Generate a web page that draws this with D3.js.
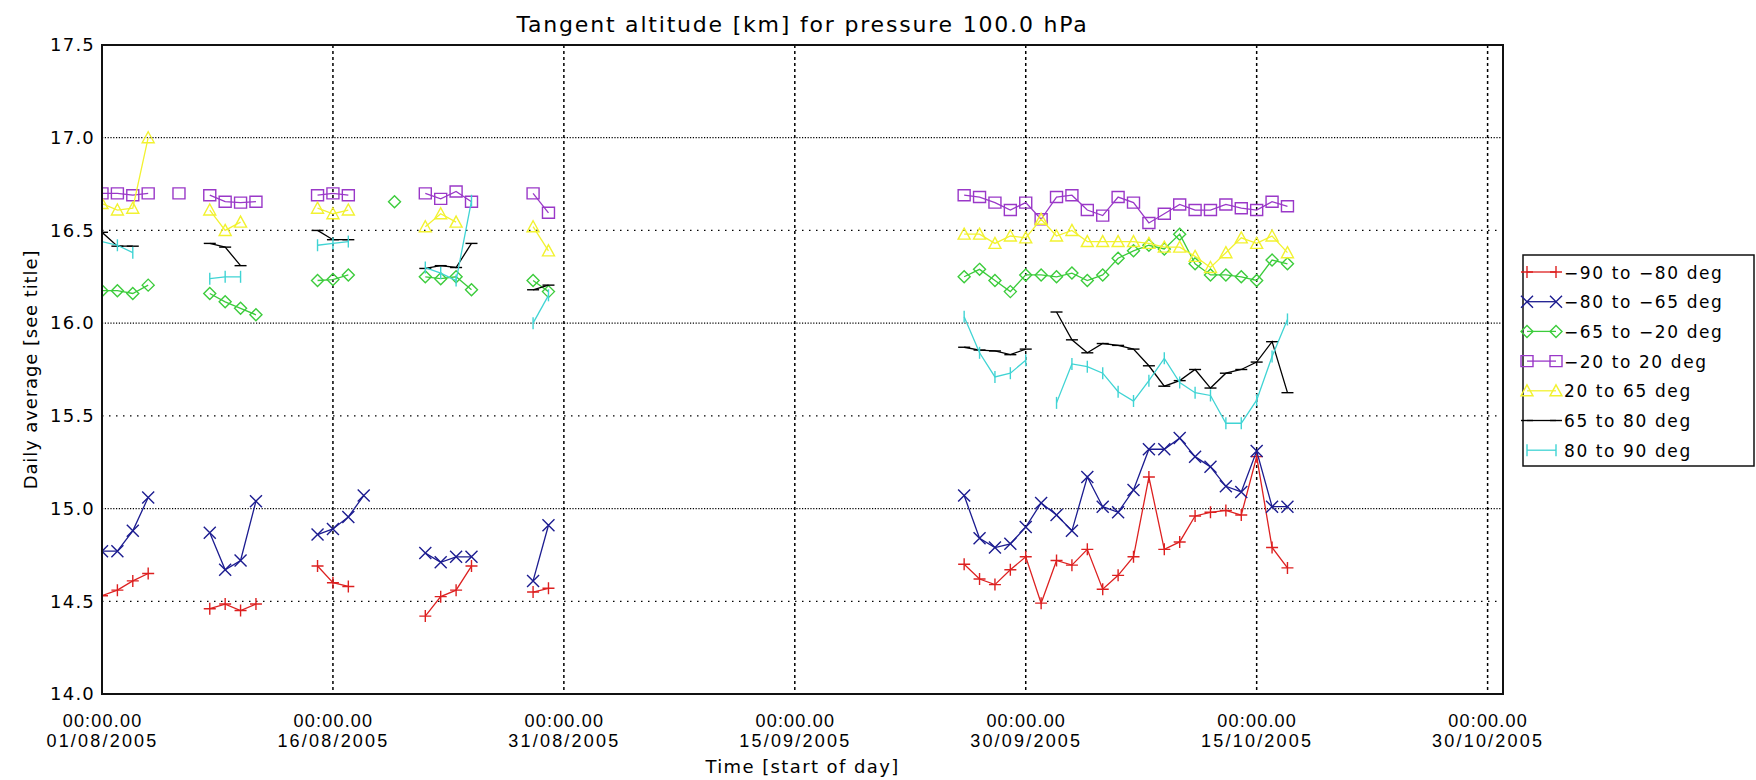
<!DOCTYPE html>
<html><head><meta charset="utf-8">
<script src="https://cdn.jsdelivr.net/npm/d3@7"></script>
<style>body{margin:0;background:#fff;} svg{display:block;font-family:"DejaVu Sans",sans-serif;}</style>
</head><body><svg id="c" width="1756" height="780"></svg>
<script>
// ---------- data ----------
const chartTitle = "Tangent altitude [km] for pressure 100.0 hPa";
const yTitle = "Daily average [see title]";
const xTitle = "Time [start of day]";
const startDate = "2005-08-01";          // day index 0
const xTickDays = [0, 15, 30, 45, 60, 75, 90];
const xTickLine1 = ["00:00.00","00:00.00","00:00.00","00:00.00","00:00.00","00:00.00","00:00.00"];
const xTickLine2 = ["01/08/2005","16/08/2005","31/08/2005","15/09/2005","30/09/2005","15/10/2005","30/10/2005"];
const yTicks = [14.0, 14.5, 15.0, 15.5, 16.0, 16.5, 17.0, 17.5];
const seriesNames = ["−90 to −80 deg","−80 to −65 deg","−65 to −20 deg","−20 to 20 deg","20 to 65 deg","65 to 80 deg","80 to 90 deg"];

const lateDays = [56,57,58,59,60,61,62,63,64,65,66,67,68,69,70,71,72,73,74,75,76,77];

const redDays = [0,1,2,3,7,8,9,10,14,15,16,21,22,23,24,28,29].concat(lateDays);
const redVals = [14.53,14.56,14.61,14.65, 14.46,14.485,14.45,14.485, 14.69,14.60,14.58, 14.42,14.525,14.56,14.69, 14.55,14.57,
  14.70,14.62,14.59,14.67,14.74,14.49,14.72,14.695,14.78,14.565,14.64,14.74,15.17,14.78,14.82,14.96,14.98,14.99,14.965,15.28,14.79,14.68];

const blueDays = [0,1,2,3,7,8,9,10,14,15,16,17,21,22,23,24,28,29].concat(lateDays);
const blueVals = [14.77,14.77,14.88,15.06, 14.87,14.67,14.72,15.04, 14.86,14.89,14.955,15.07, 14.76,14.71,14.74,14.74, 14.61,14.91,
  15.07,14.84,14.79,14.81,14.90,15.03,14.965,14.88,15.17,15.01,14.98,15.10,15.32,15.32,15.38,15.28,15.225,15.12,15.09,15.31,15.01,15.01];

const greenDays = [0,1,2,3,7,8,9,10,14,15,16,19,21,22,23,24,28,29].concat(lateDays);
const greenVals = [16.175,16.175,16.16,16.205, 16.16,16.115,16.08,16.045, 16.23,16.235,16.26, 16.655, 16.25,16.24,16.25,16.18, 16.23,16.17,
  16.25,16.29,16.23,16.17,16.26,16.26,16.25,16.27,16.23,16.26,16.35,16.39,16.42,16.40,16.48,16.32,16.26,16.26,16.25,16.23,16.34,16.32];

const purpleDays = [0,1,2,3,5,7,8,9,10,14,15,16,21,22,23,24,28,29].concat(lateDays);
const purpleVals = [16.70,16.70,16.69,16.70, 16.70, 16.69,16.655,16.65,16.655, 16.69,16.70,16.69, 16.70,16.67,16.71,16.655, 16.70,16.595,
  16.69,16.68,16.65,16.61,16.65,16.56,16.68,16.69,16.61,16.58,16.68,16.65,16.54,16.59,16.64,16.61,16.61,16.64,16.62,16.61,16.655,16.63];

const yellowDays = [0,1,2,3,7,8,9,14,15,16,21,22,23,28,29].concat(lateDays);
const yellowVals = [16.645,16.61,16.62,17.00, 16.61,16.50,16.545, 16.62,16.59,16.61, 16.52,16.59,16.545, 16.52,16.39,
  16.48,16.48,16.43,16.47,16.46,16.56,16.47,16.50,16.44,16.44,16.44,16.44,16.43,16.41,16.41,16.36,16.30,16.38,16.46,16.43,16.47,16.38];

const blackDays = [0,1,2,7,8,9,14,15,16,21,22,23,24,28,29,56,57,58,59,60,62,63,64,65,66,67,68,69,70,71,72,73,74,75,76,77];
const blackVals = [16.49,16.415,16.415, 16.43,16.41,16.31, 16.50,16.45,16.45, 16.295,16.31,16.30,16.43, 16.18,16.205,
  15.87,15.855,15.85,15.83,15.86, 16.06,15.91,15.84,15.89,15.88,15.86,15.77,15.66,15.69,15.75,15.65,15.73,15.75,15.79,15.90,15.625];

const cyanDays = [0,1,2,7,8,9,14,15,16,21,22,23,24,28,29,56,57,58,59,60,62,63,64,65,66,67,68,69,70,71,72,73,74,75,76,77];
const cyanVals = [16.44,16.42,16.38, 16.24,16.25,16.25, 16.42,16.43,16.44, 16.30,16.27,16.23,16.66, 16.00,16.15,
  16.035,15.84,15.71,15.73,15.80, 15.57,15.78,15.765,15.73,15.63,15.58,15.69,15.81,15.68,15.625,15.61,15.46,15.46,15.585,15.82,16.02];

// ---------- styling ----------
const colors = ["#dd2020","#1c1c90","#3ccc3c","#9a38c8","#f2f230","#000000","#40d4d4"];
const markerPaths = [
  "M-6,0H6M0,-6V6",                 // plus
  "M-6,-6L6,6M-6,6L6,-6",           // x
  "M0,-6L6,0L0,6L-6,0Z",            // diamond
  "M-6,-5.5H6V5.5H-6Z",             // square
  "M0,-6L6,5H-6Z",                  // triangle
  "M-6,0H6",                        // horizontal dash
  "M0,-6V6"                         // vertical bar
];
const allSeries = [
  [redDays, redVals], [blueDays, blueVals], [greenDays, greenVals], [purpleDays, purpleVals],
  [yellowDays, yellowVals], [blackDays, blackVals], [cyanDays, cyanVals]
].map(([d, v], i) => ({ name: seriesNames[i], color: colors[i], marker: markerPaths[i],
  pts: d.map((day, k) => ({ day, val: v[k] })) }));

// ---------- layout ----------
const L = 102, R = 1503, T = 45, B = 694;
const t0 = new Date(startDate + "T00:00:00Z");
const dayToDate = d => new Date(t0.getTime() + d * 86400000);
const x = d3.scaleUtc().domain([dayToDate(0), dayToDate(91)]).range([L, R]);
const y = d3.scaleLinear().domain([14, 17.5]).range([B, T]);

const svg = d3.select("#c");
svg.append("rect").attr("width", 1756).attr("height", 780).attr("fill", "#fff");

svg.append("text").attr("x", (L + R) / 2).attr("y", 32).attr("text-anchor", "middle")
  .attr("font-size", 22).attr("letter-spacing", 1.8).text(chartTitle);

// grid
const grid = svg.append("g");
yTicks.filter(v => v > 14 && v < 17.5).forEach(v => {
  const integer = Math.abs(v - Math.round(v)) < 1e-9;
  grid.append("line").attr("x1", L).attr("x2", R).attr("y1", y(v)).attr("y2", y(v))
    .attr("stroke", "#000").attr("stroke-width", 1.2)
    .attr("stroke-dasharray", integer ? "1.2,1.6" : "1.5,5.5");
});
xTickDays.filter(d => d > 0).forEach(d => {
  grid.append("line").attr("x1", x(dayToDate(d))).attr("x2", x(dayToDate(d))).attr("y1", T).attr("y2", B)
    .attr("stroke", "#000").attr("stroke-width", 1.5).attr("stroke-dasharray", "3,3");
});

// y axis labels
const yAxis = d3.axisLeft(y).tickValues(yTicks).tickSize(0).tickPadding(7).tickFormat(d3.format(".1f"));
const ya = svg.append("g").attr("transform", `translate(${L},0)`).call(yAxis);
ya.select(".domain").remove();
ya.selectAll("text").attr("font-size", 18).attr("font-family", "DejaVu Sans").attr("fill", "#000").attr("letter-spacing", 1.2);

// x axis labels
const xAxis = d3.axisBottom(x).tickValues(xTickDays.map(dayToDate)).tickSize(0).tickFormat(() => "");
const xa = svg.append("g").attr("transform", `translate(0,${B})`).call(xAxis);
xa.select(".domain").remove();
xa.selectAll(".tick").each(function(d, i) {
  const g = d3.select(this);
  g.append("text").attr("y", 33).attr("text-anchor", "middle").attr("font-size", 18)
    .attr("letter-spacing", 1.2).attr("fill", "#000").text(xTickLine1[i]);
  g.append("text").attr("y", 53).attr("text-anchor", "middle").attr("font-size", 18)
    .attr("letter-spacing", 2.2).attr("fill", "#000").text(xTickLine2[i]);
});

svg.append("text").attr("x", (L + R) / 2).attr("y", 773).attr("text-anchor", "middle")
  .attr("font-size", 18).attr("letter-spacing", 1.4).text(xTitle);
svg.append("text").attr("transform", `translate(37,${(T + B) / 2}) rotate(-90)`).attr("text-anchor", "middle")
  .attr("font-size", 18).attr("letter-spacing", 0.9).text(yTitle);

// plot data
svg.append("clipPath").attr("id", "clip").append("rect").attr("x", L).attr("y", T).attr("width", R - L).attr("height", B - T);
const plot = svg.append("g").attr("clip-path", "url(#clip)");
allSeries.forEach(s => {
  // split into runs of consecutive days
  const runs = [];
  s.pts.forEach((p, k) => {
    if (k === 0 || p.day - s.pts[k - 1].day > 1) runs.push([]);
    runs[runs.length - 1].push(p);
  });
  const line = d3.line().x(p => x(dayToDate(p.day))).y(p => y(p.val));
  const g = plot.append("g");
  runs.forEach(r => {
    g.append("path").attr("d", line(r)).attr("fill", "none").attr("stroke", s.color).attr("stroke-width", 1.3);
  });
  g.selectAll("path.m").data(s.pts).join("path").attr("class", "m")
    .attr("transform", p => `translate(${x(dayToDate(p.day))},${y(p.val)})`)
    .attr("d", s.marker).attr("fill", "none").attr("stroke", s.color).attr("stroke-width", 1.4);
});

// frame
svg.append("rect").attr("x", L).attr("y", T).attr("width", R - L).attr("height", B - T)
  .attr("fill", "none").attr("stroke", "#111").attr("stroke-width", 2);

// legend
const lg = svg.append("g");
lg.append("rect").attr("x", 1523).attr("y", 255).attr("width", 231).attr("height", 211)
  .attr("fill", "#fff").attr("stroke", "#111").attr("stroke-width", 1.5);
allSeries.forEach((s, i) => {
  const yy = 272 + i * 29.7;
  lg.append("line").attr("x1", 1527).attr("x2", 1556).attr("y1", yy).attr("y2", yy)
    .attr("stroke", s.color).attr("stroke-width", 1.3);
  [1527, 1556].forEach(xx => lg.append("path").attr("transform", `translate(${xx},${yy})`)
    .attr("d", s.marker).attr("fill", "none").attr("stroke", s.color).attr("stroke-width", 1.4));
  lg.append("text").attr("x", 1564).attr("y", yy + 6.5).attr("font-size", 17)
    .attr("letter-spacing", 1.6).attr("fill", "#000").text(s.name);
});
</script></body></html>
